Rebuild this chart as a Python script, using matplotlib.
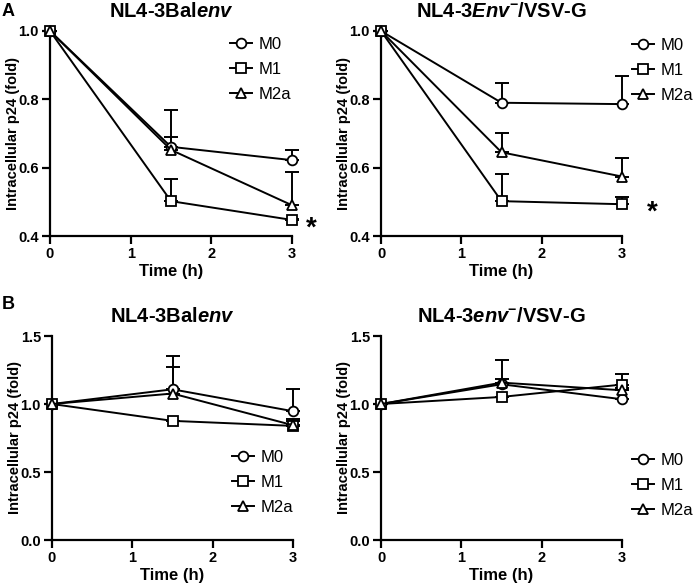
import matplotlib
matplotlib.use("Agg")
import matplotlib.pyplot as plt

plt.rcParams['font.family'] = ['Liberation Sans', 'DejaVu Sans']
plt.rcParams['mathtext.fontset'] = 'custom'
plt.rcParams['mathtext.rm'] = 'Liberation Sans'
plt.rcParams['mathtext.bf'] = 'Liberation Sans:bold'
plt.rcParams['mathtext.it'] = 'Liberation Sans:italic'
plt.rcParams['mathtext.bfit'] = 'Liberation Sans:italic:bold'

time_h = [0, 1.5, 3]
groups = ["M0", "M1", "M2a"]
markers = {"M0": "o", "M1": "s", "M2a": "^"}

# panel A, NL4-3Balenv
a1_m0 = [1.0, 0.661, 0.622]
a1_m0_err = [0, 0.028, 0.030]
a1_m1 = [1.0, 0.502, 0.447]
a1_m1_err = [0, 0.065, 0.004]
a1_m2a = [1.0, 0.652, 0.490]
a1_m2a_err = [0, 0.117, 0.096]

# panel A, NL4-3Env-/VSV-G
a2_m0 = [1.0, 0.790, 0.786]
a2_m0_err = [0, 0.057, 0.082]
a2_m1 = [1.0, 0.502, 0.493]
a2_m1_err = [0, 0.080, 0.022]
a2_m2a = [1.0, 0.645, 0.574]
a2_m2a_err = [0, 0.055, 0.053]

# panel B, NL4-3Balenv
b1_m0 = [1.0, 1.108, 0.947]
b1_m0_err = [0, 0.243, 0.166]
b1_m1 = [1.0, 0.876, 0.839]
b1_m1_err = [0, 0.0, 0.05]
b1_m2a = [1.0, 1.077, 0.844]
b1_m2a_err = [0, 0.195, 0.03]

# panel B, NL4-3env-/VSV-G
b2_m0 = [1.0, 1.145, 1.035]
b2_m0_err = [0, 0.04, 0.0]
b2_m1 = [1.0, 1.052, 1.143]
b2_m1_err = [0, 0.0, 0.08]
b2_m2a = [1.0, 1.157, 1.101]
b2_m2a_err = [0, 0.164, 0.02]

W, H = 700, 587
fig = plt.figure(figsize=(7, 5.87), dpi=100)


def px_axes(x0, x1, y0, y1):
    # pixel box -> figure fraction
    return fig.add_axes([x0 / W, 1 - y1 / H, (x1 - x0) / W, (y1 - y0) / H])


def draw_panel(ax, series, errs, title, ylim, yticks, legend_xy):
    for g, vals, err in zip(groups, series, errs):
        ax.errorbar(time_h, vals, yerr=[[0] * len(err), err], fmt='none',
                    ecolor='black', elinewidth=1.4, capsize=5, capthick=1.4,
                    zorder=2, clip_on=False)
        ax.plot(time_h, vals, color='black', lw=1.4, marker=markers[g],
                markersize=7, markerfacecolor='white', markeredgecolor='black',
                markeredgewidth=1.3, label=g, zorder=3, clip_on=False)
    ax.set_xlim(0, 3)
    ax.set_ylim(*ylim)
    ax.set_xticks([0, 1, 2, 3])
    ax.set_yticks(yticks)
    ax.set_yticklabels([f"{t:.1f}" for t in yticks])
    for s in ['top', 'right']:
        ax.spines[s].set_visible(False)
    for s in ['left', 'bottom']:
        ax.spines[s].set_linewidth(1.6)
    ax.tick_params(width=1.6, length=6, labelsize=10.5, pad=2)
    for lab in ax.get_xticklabels() + ax.get_yticklabels():
        lab.set_fontweight('bold')
    ax.set_xlabel("Time (h)", fontsize=12, fontweight='bold', labelpad=2)
    ax.set_ylabel("Intracellular p24 (fold)", fontsize=10.5, fontweight='bold')
    ax.yaxis.set_label_coords(-0.125, 0.5)
    ax.set_title(title, fontsize=14.5, fontweight='bold', pad=10)
    lx, ly = legend_xy
    ax.legend(loc='upper left', bbox_to_anchor=(lx / W, 1 - ly / H),
              bbox_transform=fig.transFigure, frameon=False, fontsize=12,
              handlelength=1.3, handletextpad=0.4, labelspacing=0.6,
              borderpad=0, borderaxespad=0)


ax1 = px_axes(50, 292, 31, 236)
draw_panel(ax1, [a1_m0, a1_m1, a1_m2a], [a1_m0_err, a1_m1_err, a1_m2a_err],
           r"NL4-3Bal$\mathbfit{env}$", (0.4, 1.0), [0.4, 0.6, 0.8, 1.0],
           (230, 37))
ax1.annotate("*", (3, a1_m1[-1]), xytext=(14, -6), textcoords='offset points',
             fontsize=20, fontweight='bold', ha='center', va='center')

ax2 = px_axes(381, 622, 31, 236)
draw_panel(ax2, [a2_m0, a2_m1, a2_m2a], [a2_m0_err, a2_m1_err, a2_m2a_err],
           r"NL4-3$\mathbfit{Env}^{\mathbf{-}}$/VSV-G", (0.4, 1.0),
           [0.4, 0.6, 0.8, 1.0], (632, 38))
ax2.annotate("*", (3, a2_m1[-1]), xytext=(22, -6), textcoords='offset points',
             fontsize=20, fontweight='bold', ha='center', va='center')

ax3 = px_axes(52, 293, 336, 540)
draw_panel(ax3, [b1_m0, b1_m1, b1_m2a], [b1_m0_err, b1_m1_err, b1_m2a_err],
           r"NL4-3Bal$\mathbfit{env}$", (0, 1.5), [0.0, 0.5, 1.0, 1.5],
           (232, 450))

ax4 = px_axes(381, 622, 336, 540)
draw_panel(ax4, [b2_m0, b2_m1, b2_m2a], [b2_m0_err, b2_m1_err, b2_m2a_err],
           r"NL4-3$\mathbfit{env}^{\mathbf{-}}$/VSV-G", (0, 1.5),
           [0.0, 0.5, 1.0, 1.5], (632, 453))

fig.text(2 / W, 1 - 3 / H, "A", fontsize=13, fontweight='bold', va='top')
fig.text(2 / W, 1 - 296 / H, "B", fontsize=13, fontweight='bold', va='top')

fig.savefig("out.png", dpi=100)
